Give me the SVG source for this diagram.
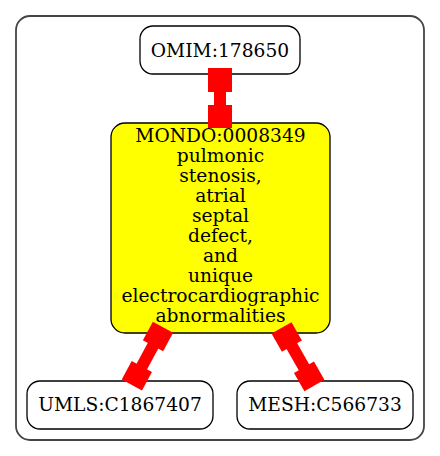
<svg xmlns="http://www.w3.org/2000/svg" width="440" height="456" viewBox="0 0 440 456">
<style>
.node rect{stroke:#000;stroke-width:1.3}
.lbl{font-family:"DejaVu Serif",serif;font-size:18.67px;text-anchor:middle;fill:#000}
.edge line{stroke:#ff0000;stroke-width:12}
.edge rect{fill:#ff0000}
</style>
<rect width="440" height="456" fill="#fff"/>
<g id="cluster">
<rect x="16" y="16" width="408" height="424" rx="14" fill="none" stroke="#444" stroke-width="1.8"/>
</g>
<g id="OMIM_178650" class="node">
<rect x="140" y="26" width="160" height="48" rx="13" fill="#fff"/>
<text class="lbl" x="220" y="56.7">OMIM:178650</text>
</g>
<g id="MONDO_0008349" class="node">
<rect x="111" y="123" width="219" height="210" rx="14" fill="#ffff00"/>
<text class="lbl" x="220.5" y="142">MONDO:0008349</text>
<text class="lbl" x="220.5" y="162">pulmonic</text>
<text class="lbl" x="220.5" y="182">stenosis,</text>
<text class="lbl" x="220.5" y="202">atrial</text>
<text class="lbl" x="220.5" y="222">septal</text>
<text class="lbl" x="220.5" y="242">defect,</text>
<text class="lbl" x="220.5" y="262">and</text>
<text class="lbl" x="220.5" y="282">unique</text>
<text class="lbl" x="220.5" y="302">electrocardiographic</text>
<text class="lbl" x="220.5" y="322">abnormalities</text>
</g>
<g id="UMLS_C1867407" class="node">
<rect x="27" y="381" width="186" height="48" rx="13" fill="#fff"/>
<text class="lbl" x="120" y="410.7">UMLS:C1867407</text>
</g>
<g id="MESH_C566733" class="node">
<rect x="237" y="381" width="176" height="48" rx="13" fill="#fff"/>
<text class="lbl" x="325" y="410.7">MESH:C566733</text>
</g>
<g id="edges" class="edge">
<g transform="translate(220,80)">
<line x1="0" y1="0" x2="0" y2="36.5"/>
<rect x="-12" y="-12" width="24" height="24"/>
<rect x="-12" y="25" width="24" height="23"/>
</g>
<g transform="translate(158,336.5) rotate(28.3)">
<line x1="0" y1="0" x2="0" y2="44.6"/>
<rect x="-11.5" y="-10.5" width="23" height="21"/>
<rect x="-11.5" y="34.1" width="23" height="21"/>
</g>
<g transform="translate(286.7,337) rotate(-29.7)">
<line x1="0" y1="0" x2="0" y2="45.4"/>
<rect x="-11.5" y="-10.5" width="23" height="21"/>
<rect x="-11.5" y="34.9" width="23" height="21"/>
</g>
</g>
</svg>
